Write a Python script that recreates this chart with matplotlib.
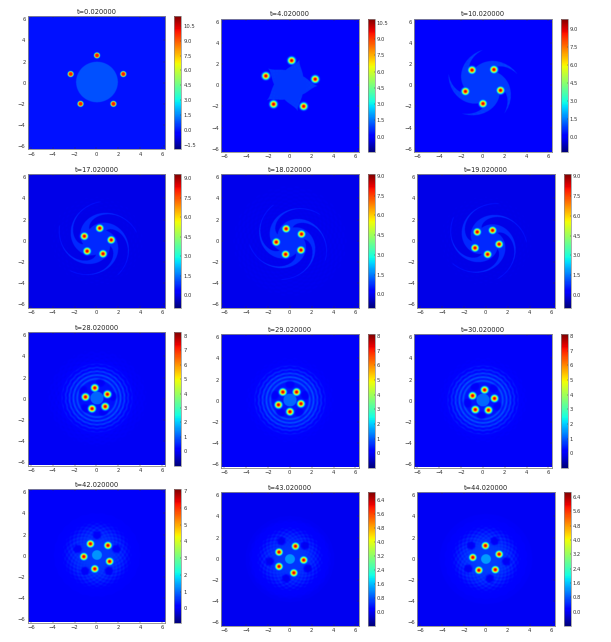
import numpy as np
import matplotlib
matplotlib.use("Agg")
import matplotlib.pyplot as plt
from matplotlib.ticker import MultipleLocator

# snapshot times
times = [0.02, 4.02, 10.02, 17.02, 18.02, 19.02, 28.02, 29.02, 30.02, 42.02, 43.02, 44.02]

# vortex centres
vortex_x = [
    [0.0, -2.4, 2.4, -1.5, 1.5],
    [0.15, -2.2, 2.3, -1.5, 1.25],
    [-1.0, 1.0, 1.6, 0.0, -1.6],
    [0.25, -1.15, 1.3, -0.9, 0.55],
    [-0.35, 1.05, -1.25, 1.0, -0.4],
    [-0.8, 0.6, 1.2, -1.0, 0.15],
    [-0.2, 0.95, -1.05, 0.75, -0.45],
    [-0.65, 0.6, 1.0, -1.05, 0.0],
    [0.15, -0.95, 1.05, -0.7, 0.5],
    [-0.6, 1.0, -1.2, 1.15, -0.2],
    [0.5, -1.0, 1.25, -1.0, 0.35],
    [-0.05, 1.2, -1.2, 0.85, -0.65],
]
vortex_y = [
    [2.5, 0.75, 0.75, -2.05, -2.05],
    [2.3, 0.85, 0.55, -1.8, -2.0],
    [1.4, 1.45, -0.5, -1.75, -0.6],
    [1.2, 0.45, 0.1, -0.95, -1.2],
    [1.15, 0.65, -0.1, -0.85, -1.25],
    [0.85, 1.0, -0.3, -0.65, -1.25],
    [0.95, 0.35, 0.1, -0.8, -1.0],
    [0.75, 0.75, -0.35, -0.45, -1.1],
    [0.95, 0.4, 0.15, -0.9, -0.95],
    [1.05, 0.9, -0.15, -0.6, -1.3],
    [1.2, 0.65, -0.1, -0.7, -1.3],
    [1.25, 0.45, 0.15, -1.0, -1.05],
]

# colorbar limits and tick spacing
cbar_lo = [-1.93, -1.41, -1.22, -0.95, -0.99, -0.93, -0.97, -0.98, -0.98, -0.85, -0.76, -0.78]
cbar_hi = [11.47, 10.9, 9.89, 9.33, 9.15, 9.15, 8.25, 8.14, 8.14, 7.12, 6.86, 6.68]
tick_step = [1.5, 1.5, 1.5, 1.5, 1.5, 1.5, 1, 1, 1, 1, 0.8, 0.8]

# background level outside the patch
base = [-0.35, -0.1, -0.05, 0, 0, 0, 0, 0, 0, 0, 0, 0]

# central patch and its arms
core_r = [1.9, 1.3, 1.2, 1.0, 1.0, 1.0, 0.6, 0.6, 0.6, 0.45, 0.45, 0.45]
core_val = [0.8, 0.8, 0.8, 0.75, 0.75, 0.75, 0.75, 0.75, 0.75, 0.7, 0.7, 0.7]
arm_end = [0, 2.6, 3.3, 3.7, 3.7, 3.7, 0, 0, 0, 0, 0, 0]
arm_tip = [0, 70, 18, 13, 42, 71, 0, 0, 0, 0, 0, 0]
arm_twist = [0, 0, 45, 60, 60, 60, 0, 0, 0, 0, 0, 0]
arm_width = [0, 1.15, 1.05, 0.95, 0.95, 0.95, 0, 0, 0, 0, 0, 0]
arm_power = [0, 1.8, 0.9, 1.5, 1.5, 1.5, 0, 0, 0, 0, 0, 0]
filament = [0, 0, 0, 0.75, 0.75, 0.75, 0, 0, 0, 0, 0, 0]

# concentric rings in the later snapshots
ring_r = [1.8, 2.15, 2.5, 2.85, 3.2]
ring_amp = [
    [0, 0, 0, 0, 0], [0, 0, 0, 0, 0], [0, 0, 0, 0, 0],
    [0, 0, 0, 0, 0], [0, 0, 0, 0, 0], [0, 0, 0, 0, 0],
    [0.6, 0.65, 0.55, 0.4, 0.25], [0.6, 0.65, 0.55, 0.4, 0.25], [0.6, 0.65, 0.55, 0.4, 0.25],
    [0, 0, 0, 0, 0], [0, 0, 0, 0, 0], [0, 0, 0, 0, 0],
]

# wide glow around the vortices
glow = [0, 0, 0, 0, 0, 0, 0.35, 0.35, 0.35, 0.6, 0.6, 0.6]
glow_r = [1, 1, 1, 1, 1, 1, 2.9, 2.9, 2.9, 2.9, 2.9, 2.9]

# dark spots between the vortices
spot_angle = [0, 0, 0, 0, 0, 0, 78, 90, 120, 90, 115, 65]
spot_r = [0, 0, 0, 0, 0, 0, 1.5, 1.5, 1.5, 1.85, 1.85, 1.85]
spot_amp = [0, 0, 0, 0, 0, 0, -0.45, -0.45, -0.45, -0.6, -0.6, -0.6]

# faint dotted halo
ripple_amp = [0, 0.1, 0.12, 0.05, 0.05, 0.05, 0.1, 0.1, 0.1, 0.14, 0.14, 0.14]
ripple_r = [0, 3.0, 3.2, 3.4, 3.4, 3.4, 2.9, 2.9, 2.9, 2.4, 2.4, 2.4]

# panel boxes in pixels: left, right, top, bottom of the axes
box_left = [27.7, 221, 414, 27.7, 221, 417, 27.7, 221, 414, 27.7, 221, 417]
box_top = [16, 18.5, 18.5, 174, 174, 174, 332, 334, 334, 489, 492, 492]
box_w = 137.5
box_h = 133.5
cbar_gap = 9
cbar_w = 7

W, H = 611, 642
L = 2 * np.pi


def wrap(a):
    return np.angle(np.exp(1j * a))


def make_field(i, X, Y):
    R = np.hypot(X, Y)
    T = np.arctan2(Y, X)
    f = np.zeros_like(X)

    # patch with tapered arms
    inside = R < core_r[i]
    if arm_end[i] > 0:
        s = np.clip((R - core_r[i]) / (arm_end[i] - core_r[i]), 0, 1)
        for n in range(5):
            tip = np.radians(arm_tip[i] + 72 * n)
            centre = tip + np.radians(arm_twist[i]) * (arm_end[i] - R)
            d = R * np.abs(wrap(T - centre))
            inside |= (R >= core_r[i]) & (R < arm_end[i]) & (d < arm_width[i] * (1 - s) ** arm_power[i])
            if filament[i] > 0:
                f += filament[i] * np.exp(-(d / 0.1) ** 2) * (R > core_r[i]) * (R < arm_end[i])
    f = np.maximum(f, core_val[i] * inside)
    f = np.where(f > 0, f, base[i])

    for rr, amp in zip(ring_r, ring_amp[i]):
        f += amp * np.exp(-((R - rr) / 0.1) ** 2)

    if glow[i] > 0:
        f += glow[i] * np.exp(-(R / glow_r[i]) ** 4)

    if spot_amp[i] != 0:
        for n in range(5):
            a = np.radians(spot_angle[i] + 72 * n)
            sx = spot_r[i] * np.cos(a)
            sy = spot_r[i] * np.sin(a)
            f += spot_amp[i] * np.exp(-(((X - sx) ** 2 + (Y - sy) ** 2) / 0.36 ** 2) ** 2)

    if ripple_amp[i] > 0:
        f += ripple_amp[i] * np.cos(26 * T) * np.cos(16 * R) * np.exp(-((R - ripple_r[i]) / 0.8) ** 2)

    # vortices go on top
    for vx, vy in zip(vortex_x[i], vortex_y[i]):
        d = np.hypot(X - vx, Y - vy)
        if i == 0:
            f = np.maximum(f, cbar_hi[i] * 0.86 * np.exp(-(d / 0.25) ** 6))
        else:
            f = np.maximum(f, cbar_hi[i] * 0.92 * np.exp(-(d / 0.29) ** 2.6))
    return f


fig = plt.figure(figsize=(W / 100, H / 100), dpi=100)
g = np.linspace(-L, L, 700)
X, Y = np.meshgrid(g, g)

for i, t in enumerate(times):
    ax = fig.add_axes([box_left[i] / W, 1 - (box_top[i] + box_h) / H, box_w / W, box_h / H])
    im = ax.imshow(make_field(i, X, Y), extent=[-L, L, -L, L], origin="lower", cmap="jet",
                   vmin=cbar_lo[i], vmax=cbar_hi[i], aspect="auto", interpolation="bilinear")
    ax.set_xlim(-L, L)
    ax.set_ylim(-L, L)
    ax.set_xticks(np.arange(-6, 7, 2))
    ax.set_yticks(np.arange(-6, 7, 2))
    ax.tick_params(labelsize=3.8, length=1.5, width=0.3, direction="in", top=True, right=True,
                   pad=1.5, labelcolor="#333333", color="#333333")
    for sp in ax.spines.values():
        sp.set_linewidth(0.6)
        sp.set_color("#8a8a8a")
    ax.set_title("t=%f" % t, fontsize=4.8, pad=1.5, color="#222222")

    cax = fig.add_axes([(box_left[i] + box_w + cbar_gap) / W, 1 - (box_top[i] + box_h) / H,
                        cbar_w / W, box_h / H])
    cb = fig.colorbar(im, cax=cax)
    cb.locator = MultipleLocator(tick_step[i])
    cb.update_ticks()
    cb.ax.tick_params(labelsize=3.8, length=1, width=0.3, direction="in", pad=1.5,
                      labelcolor="#333333", color="#333333")
    cb.outline.set_linewidth(0.5)
    cb.outline.set_edgecolor("#8a8a8a")

fig.savefig("out.png", dpi=100)
